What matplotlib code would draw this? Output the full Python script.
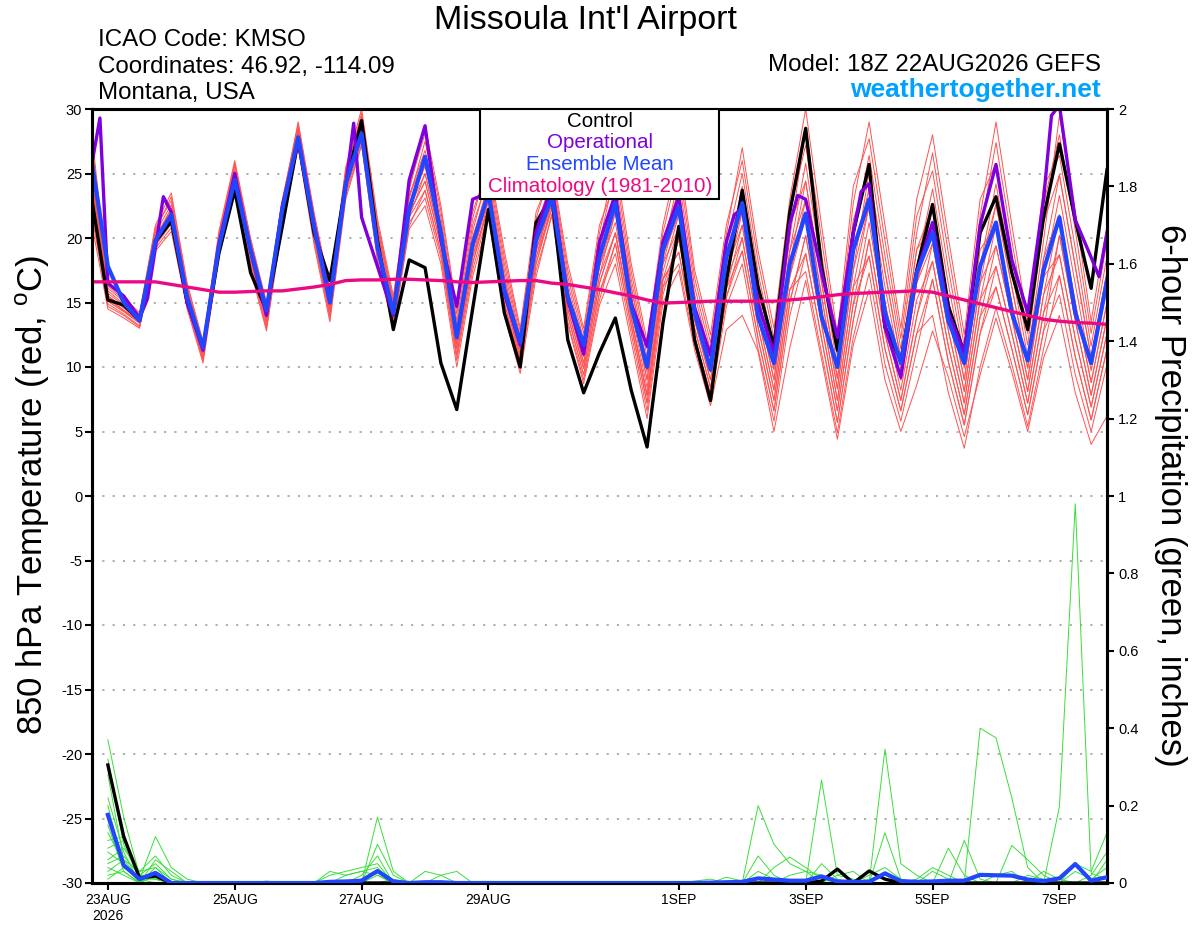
import numpy as np
import pandas as pd
import matplotlib
matplotlib.use('Agg')
import matplotlib.pyplot as plt
from matplotlib.patches import Rectangle

plt.rcParams['font.family'] = ['Liberation Sans', 'DejaVu Sans']
plt.rcParams['axes.unicode_minus'] = False
plt.rcParams['mathtext.fontset'] = 'custom'
plt.rcParams['mathtext.rm'] = 'Liberation Sans'

W, H = 1200, 927

# 6-hourly valid times, 22AUG 18Z .. 7SEP 18Z
times = pd.date_range('2026-08-22 18:00', periods=65, freq='6h')

# ---- 850 hPa temperature (C) ----
ctrl_temp = [22.9, 15.2, 14.8, 13.6, 19.7, 21.3, 15.0, 11.5, 18.8, 23.7, 17.3, 14.4, 20.9,
             27.6, 20.4, 16.7, 24.2, 29.1, 19.8, 12.9, 18.3, 17.7, 10.3, 6.7, 14.5, 22.2,
             14.2, 10.0, 21.2, 23.2, 12.1, 8.0, 11.1, 13.8, 8.2, 3.8, 13.4, 20.9, 12.1, 7.4,
             16.7, 23.7, 16.2, 11.6, 22.0, 28.5, 17.8, 11.3, 20.4, 25.7, 13.1, 10.5, 17.5,
             22.6, 14.7, 11.1, 20.4, 23.2, 17.3, 12.9, 21.6, 27.3, 21.4, 16.1, 25.3]

mean_temp = [25.8, 17.8, 15.0, 13.6, 19.8, 21.8, 15.4, 11.5, 19.3, 24.5, 19.1, 14.4, 22.2,
             27.8, 20.9, 15.0, 24.2, 28.1, 19.3, 14.2, 22.2, 26.3, 20.4, 12.3, 19.5, 23.5,
             16.0, 11.9, 19.8, 23.2, 15.4, 11.7, 18.5, 22.7, 14.7, 10.0, 19.1, 22.4, 14.2, 9.8,
             18.5, 22.7, 13.9, 10.3, 18.0, 21.9, 13.9, 10.0, 19.1, 23.0, 14.2, 10.3, 17.3,
             20.4, 13.6, 10.3, 17.8, 21.2, 14.2, 10.5, 17.5, 21.6, 14.2, 10.3, 16.7]

clim_temp = [16.6, 16.6, 16.6, 16.6, 16.6, 16.4, 16.2, 16.0, 15.8, 15.8, 15.85, 15.9, 15.9,
             16.05, 16.2, 16.4, 16.7, 16.75, 16.75, 16.8, 16.8, 16.75, 16.7, 16.6, 16.55, 16.6,
             16.65, 16.7, 16.7, 16.5, 16.4, 16.2, 16.0, 15.75, 15.5, 15.2, 14.95, 15.0, 15.05,
             15.1, 15.1, 15.1, 15.1, 15.1, 15.2, 15.3, 15.45, 15.6, 15.7, 15.75, 15.8, 15.85,
             15.9, 15.8, 15.5, 15.2, 14.9, 14.6, 14.3, 14.0, 13.7, 13.55, 13.45, 13.4, 13.3]

# operational run (3-hourly where visible), hours after 22AUG 18Z
op_hours = [0, 3, 6, 12, 18, 21, 27, 30, 36, 42, 48, 54, 60, 66, 72, 78, 84, 90, 96, 99,
            102, 108, 114, 120, 126, 132, 138, 144, 150, 156, 162, 168, 174, 180, 186, 192,
            198, 204, 210, 216, 222, 228, 234, 240, 243, 246, 252, 258, 264, 267, 270, 276,
            282, 288, 291, 294, 300, 306, 312, 318, 324, 330, 336, 342, 348, 354, 360, 363,
            366, 372, 378, 381, 384]
op_temp = [25.8, 29.3, 16.5, 15.5, 13.8, 15.3, 23.2, 22.0, 15.0, 11.3, 19.5, 25.0, 19.0,
           14.0, 22.5, 27.5, 21.0, 15.5, 24.0, 28.9, 21.6, 17.8, 14.0, 24.5, 28.7, 19.8,
           14.7, 23.0, 23.5, 15.7, 11.7, 20.5, 24.0, 15.2, 11.0, 19.7, 23.4, 14.9, 11.6,
           19.7, 23.2, 14.6, 10.9, 19.7, 21.8, 22.3, 14.9, 11.1, 21.1, 23.3, 23.0, 17.3,
           12.3, 20.4, 23.6, 24.2, 13.1, 9.2, 17.3, 21.2, 14.2, 11.1, 21.0, 25.7, 18.3,
           14.2, 23.0, 29.5, 30.3, 21.4, 18.5, 17.0, 20.4]

temp_members = [
    [24.5, 15.5, 14.6, 13.6, 20.0, 22.3, 15.7, 11.3, 19.7, 24.9, 18.8, 13.9, 22.0, 28.2, 21.0, 15.0, 24.5,
     29.1, 20.5, 14.7, 23.0, 27.5, 21.6, 13.6, 21.0, 24.7, 17.5, 12.0, 20.5, 24.7, 17.0, 12.1, 19.7,
     25.2, 17.4, 11.4, 20.4, 25.6, 16.9, 11.9, 20.3, 27.0, 19.0, 13.0, 23.0, 30.0, 21.0, 12.5, 24.0,
     27.7, 19.8, 12.2, 21.7, 25.2, 17.6, 10.7, 20.4, 27.4, 19.8, 12.6, 22.6, 28.0, 20.6, 12.6, 19.8],
    [23.8, 15.3, 14.4, 13.5, 19.8, 21.4, 15.1, 10.8, 19.1, 24.5, 18.3, 13.5, 21.6, 27.4, 20.0, 14.0, 23.5,
     27.6, 18.7, 13.3, 21.2, 23.1, 18.5, 10.5, 17.5, 22.0, 14.5, 9.9, 17.5, 21.7, 13.3, 8.7, 14.8,
     18.0, 12.0, 6.0, 15.0, 17.5, 11.3, 7.0, 12.9, 14.0, 11.2, 5.0, 11.5, 16.7, 10.6, 4.4, 11.7,
     16.0, 9.0, 5.0, 8.6, 12.8, 9.2, 4.6, 9.4, 13.8, 9.6, 5.0, 10.7, 14.0, 8.0, 4.0, 6.2],
    [25.2, 15.7, 14.8, 13.7, 20.2, 22.0, 15.5, 11.2, 19.5, 25.1, 19.0, 14.1, 22.2, 28.0, 20.8, 14.8, 24.3,
     28.5, 19.8, 14.2, 22.3, 26.2, 20.7, 12.7, 20.0, 23.8, 16.5, 11.3, 19.5, 23.5, 15.5, 10.8, 17.8,
     21.2, 14.4, 8.4, 17.4, 21.8, 14.3, 9.6, 17.5, 23.0, 15.6, 9.8, 19.0, 25.8, 17.7, 10.0, 20.1,
     26.4, 18.6, 11.4, 20.4, 26.6, 18.8, 11.6, 21.7, 29.0, 21.0, 13.5, 24.0, 26.4, 19.2, 11.6, 18.6],
    [23.1, 15.1, 14.3, 13.4, 19.6, 21.7, 15.3, 11.0, 19.3, 24.7, 18.5, 13.7, 21.8, 28.0, 20.8, 14.8, 24.3,
     28.2, 19.4, 13.9, 21.9, 24.4, 19.4, 11.4, 18.5, 23.3, 16.0, 10.9, 19.0, 22.7, 14.5, 9.9, 16.5,
     20.4, 13.8, 7.8, 16.8, 18.9, 12.3, 7.9, 15.4, 20.0, 13.1, 7.4, 16.0, 18.8, 12.2, 5.7, 13.6,
     19.9, 12.6, 7.4, 13.9, 19.6, 12.8, 7.2, 15.2, 17.8, 12.6, 7.2, 14.2, 20.2, 13.6, 7.8, 13.8],
    [25.9, 15.9, 14.9, 13.8, 20.4, 22.6, 15.9, 11.5, 19.9, 25.6, 19.5, 14.6, 22.6, 28.6, 21.5, 15.5, 25.0,
     29.7, 21.2, 15.2, 23.7, 28.7, 22.5, 14.5, 22.0, 25.6, 18.5, 12.7, 21.5, 25.5, 18.0, 13.0, 21.0,
     24.4, 16.8, 10.8, 19.8, 23.7, 15.6, 10.8, 18.9, 23.0, 15.6, 9.8, 19.0, 23.0, 15.5, 8.3, 17.5,
     22.5, 15.0, 9.0, 16.5, 19.6, 12.8, 7.2, 15.2, 21.0, 15.0, 9.0, 17.0, 23.3, 16.4, 9.7, 16.2],
    [22.4, 14.9, 14.1, 13.2, 19.4, 21.1, 14.9, 10.6, 18.9, 24.2, 18.0, 13.2, 21.4, 27.6, 20.3, 14.3, 23.8,
     27.9, 19.1, 13.6, 21.6, 25.0, 19.8, 11.8, 19.0, 22.9, 15.5, 10.6, 18.5, 22.3, 14.0, 9.4, 15.8,
     19.6, 13.2, 7.2, 16.2, 19.9, 13.0, 8.4, 16.1, 19.0, 12.2, 6.6, 15.0, 20.2, 13.3, 6.6, 14.9,
     18.6, 11.4, 6.6, 12.6, 14.0, 8.0, 3.7, 10.0, 14.6, 10.2, 5.4, 11.4, 17.1, 10.8, 5.9, 11.4],
    [26.6, 16.1, 15.1, 14.0, 20.6, 23.2, 16.3, 11.8, 20.3, 25.8, 19.8, 14.8, 22.8, 29.0, 22.0, 16.0, 25.5,
     30.0, 21.5, 15.5, 24.0, 28.1, 22.1, 14.1, 21.5, 26.0, 19.0, 13.0, 22.0, 25.1, 17.5, 12.6, 20.4,
     26.0, 18.0, 12.0, 21.0, 26.5, 17.5, 12.5, 21.0, 26.0, 18.2, 12.2, 22.0, 27.2, 18.8, 10.8, 21.4,
     25.1, 17.4, 10.6, 19.1, 22.4, 15.2, 9.0, 17.8, 24.2, 17.4, 10.8, 19.8, 29.5, 22.0, 13.5, 21.0],
    [24.5, 15.5, 14.6, 13.6, 20.0, 22.0, 15.5, 11.2, 19.5, 24.7, 18.5, 13.7, 21.8, 27.8, 20.5, 14.5, 24.0,
     28.8, 20.1, 14.4, 22.6, 25.6, 20.3, 12.3, 19.5, 24.2, 17.0, 11.6, 20.0, 23.9, 16.0, 11.2, 18.4,
     22.8, 15.6, 9.6, 18.6, 21.8, 14.3, 9.6, 17.5, 21.0, 13.9, 8.2, 17.0, 21.6, 14.4, 7.4, 16.2,
     22.5, 15.0, 9.0, 16.5, 22.4, 15.2, 9.0, 17.8, 22.6, 16.2, 9.9, 18.4, 21.8, 15.0, 8.8, 15.0],
    [21.7, 14.7, 14.0, 13.1, 19.2, 20.8, 14.7, 10.5, 18.7, 24.0, 17.8, 13.0, 21.2, 27.2, 19.8, 13.8, 23.3,
     27.3, 18.4, 13.1, 20.9, 23.7, 18.9, 10.9, 18.0, 22.4, 15.0, 10.2, 18.0, 22.7, 14.5, 9.9, 16.5,
     20.4, 13.8, 7.8, 16.8, 20.8, 13.6, 9.0, 16.8, 22.0, 14.8, 9.0, 18.0, 24.4, 16.6, 9.1, 18.8,
     23.8, 16.2, 9.8, 17.8, 23.8, 16.4, 9.9, 19.1, 21.0, 15.0, 9.0, 17.0, 18.7, 12.2, 6.9, 12.6],
    [27.3, 16.3, 15.2, 14.1, 20.8, 22.9, 16.1, 11.7, 20.1, 25.3, 19.3, 14.3, 22.4, 28.4, 21.3, 15.3, 24.8,
     29.4, 20.8, 15.0, 23.3, 26.8, 21.2, 13.2, 20.5, 25.1, 18.0, 12.3, 21.0, 24.3, 16.5, 11.7, 19.1,
     23.6, 16.2, 10.2, 19.2, 22.7, 14.9, 10.2, 18.2, 24.0, 16.5, 10.6, 20.0, 28.6, 19.9, 11.7, 22.7,
     29.0, 21.0, 13.0, 23.0, 28.0, 20.0, 12.5, 23.0, 25.8, 18.6, 11.7, 21.2, 24.9, 17.8, 10.7, 17.4],
    [23.5, 15.3, 14.4, 13.5, 19.8, 21.7, 15.3, 11.0, 19.3, 24.9, 18.8, 13.9, 22.0, 27.8, 20.5, 14.5, 24.0,
     27.9, 19.1, 13.6, 21.6, 23.7, 18.9, 10.9, 18.0, 22.9, 15.5, 10.6, 18.5, 23.1, 15.0, 10.3, 17.1,
     22.0, 15.0, 9.0, 18.0, 20.8, 13.6, 9.0, 16.8, 20.0, 13.1, 7.4, 16.0, 17.4, 11.1, 4.9, 12.3,
     17.3, 10.2, 5.8, 11.3, 16.8, 10.4, 5.5, 12.6, 16.2, 11.4, 6.3, 12.8, 15.6, 9.4, 5.0, 10.2],
    [25.2, 15.5, 14.6, 13.6, 20.0, 22.3, 15.7, 11.3, 19.7, 25.1, 19.0, 14.1, 22.2, 28.4, 21.3, 15.3, 24.8,
     28.8, 20.1, 14.4, 22.6, 25.6, 20.3, 12.3, 19.5, 23.3, 16.0, 10.9, 19.0, 23.1, 15.0, 10.3, 17.1,
     20.4, 13.8, 7.8, 16.8, 18.9, 12.3, 7.9, 15.4, 19.0, 12.2, 6.6, 15.0, 20.2, 13.3, 6.6, 14.9,
     21.2, 13.8, 8.2, 15.2, 18.2, 11.6, 6.3, 13.9, 19.4, 13.8, 8.1, 15.6, 18.7, 12.2, 6.9, 12.6],
    [21.0, 14.5, 13.8, 13.0, 19.0, 20.5, 14.5, 10.3, 18.5, 23.8, 17.5, 12.8, 21.0, 27.0, 19.5, 13.5, 23.0,
     27.2, 18.2, 12.9, 20.7, 22.5, 18.0, 10.0, 17.0, 21.5, 14.0, 9.5, 17.0, 21.9, 13.5, 9.0, 15.2,
     19.6, 13.2, 7.2, 16.2, 18.0, 11.7, 7.3, 14.7, 18.0, 11.4, 5.8, 14.0, 18.8, 12.2, 5.7, 13.6,
     19.9, 12.6, 7.4, 13.9, 18.2, 11.6, 6.3, 13.9, 16.2, 11.4, 6.3, 12.8, 20.2, 13.6, 7.8, 13.8],
    [24.2, 15.5, 14.6, 13.6, 20.0, 22.0, 15.5, 11.2, 19.5, 24.9, 18.8, 13.9, 22.0, 28.0, 20.8, 14.8, 24.3,
     28.5, 19.8, 14.2, 22.3, 25.0, 19.8, 11.8, 19.0, 23.8, 16.5, 11.3, 19.5, 23.9, 16.0, 11.2, 18.4,
     23.6, 16.2, 10.2, 19.2, 24.6, 16.2, 11.3, 19.6, 25.0, 17.3, 11.4, 21.0, 24.4, 16.6, 9.1, 18.8,
     22.5, 15.0, 9.0, 16.5, 21.0, 14.0, 8.1, 16.5, 22.6, 16.2, 9.9, 18.4, 24.9, 17.8, 10.7, 17.4],
    [28.0, 16.5, 15.4, 14.2, 21.0, 23.5, 16.5, 12.0, 20.5, 26.0, 20.0, 15.0, 23.0, 28.8, 21.8, 15.8, 25.3,
     29.4, 20.8, 15.0, 23.3, 26.2, 20.7, 12.7, 20.0, 24.2, 17.0, 11.6, 20.0, 23.5, 15.5, 10.8, 17.8,
     22.0, 15.0, 9.0, 18.0, 22.7, 14.9, 10.2, 18.2, 22.0, 14.8, 9.0, 18.0, 21.6, 14.4, 7.4, 16.2,
     18.6, 11.4, 6.6, 12.6, 16.8, 10.4, 5.5, 12.6, 17.8, 12.6, 7.2, 14.2, 17.1, 10.8, 5.9, 11.4],
    [23.1, 15.1, 14.3, 13.4, 19.6, 21.4, 15.1, 10.8, 19.1, 24.5, 18.3, 13.5, 21.6, 27.6, 20.3, 14.3, 23.8,
     28.2, 19.4, 13.9, 21.9, 24.4, 19.4, 11.4, 18.5, 22.4, 15.0, 10.2, 18.0, 22.3, 14.0, 9.4, 15.8,
     18.8, 12.6, 6.6, 15.6, 19.9, 13.0, 8.4, 16.1, 21.0, 13.9, 8.2, 17.0, 23.0, 15.5, 8.3, 17.5,
     25.1, 17.4, 10.6, 19.1, 21.0, 14.0, 8.1, 16.5, 19.4, 13.8, 8.1, 15.6, 21.8, 15.0, 8.8, 15.0],
]

# ---- 6-hour precipitation (inches), {6h step: value}, missing steps are 0 ----
precip_ctrl = {1: 0.305, 2: 0.12, 3: 0.013, 4: 0.018, 46: 0.005, 47: 0.036, 49: 0.031, 50: 0.01}
precip_mean = {1: 0.176, 2: 0.046, 3: 0.010, 4: 0.026, 15: 0.003, 16: 0.004, 17: 0.006, 18: 0.031,
               19: 0.004, 21: 0.002, 22: 0.002, 39: 0.001, 40: 0.002, 41: 0.003, 42: 0.012,
               43: 0.009, 44: 0.006, 45: 0.006, 46: 0.017, 47: 0.004, 48: 0.003, 49: 0.003,
               50: 0.025, 51: 0.005, 52: 0.003, 53: 0.004, 54: 0.006, 55: 0.006, 56: 0.021,
               57: 0.020, 58: 0.019, 59: 0.009, 60: 0.005, 61: 0.012, 62: 0.049, 63: 0.006,
               64: 0.015}
precip_members = [
    {1: 0.37, 2: 0.17, 3: 0.02, 4: 0.05, 5: 0.01, 46: 0.05, 47: 0.01},
    {1: 0.32, 2: 0.10, 3: 0.01, 4: 0.12, 5: 0.04, 6: 0.01, 18: 0.17, 19: 0.03, 50: 0.346, 51: 0.05, 52: 0.02},
    {1: 0.28, 2: 0.06, 3: 0.03, 4: 0.07, 5: 0.02, 18: 0.10, 19: 0.02, 42: 0.20, 43: 0.10, 44: 0.05, 45: 0.03},
    {1: 0.22, 2: 0.08, 4: 0.02, 17: 0.02, 18: 0.07, 56: 0.40, 57: 0.375, 58: 0.22, 59: 0.04},
    {1: 0.20, 2: 0.04, 3: 0.01, 4: 0.03, 15: 0.02, 16: 0.03, 17: 0.04, 18: 0.05, 61: 0.197, 62: 0.98,
     63: 0.025, 64: 0.01},
    {1: 0.15, 2: 0.03, 4: 0.06, 5: 0.03, 18: 0.03, 46: 0.266, 47: 0.02, 48: 0.01},
    {1: 0.11, 2: 0.12, 3: 0.02, 4: 0.01, 16: 0.02, 17: 0.03, 18: 0.02, 50: 0.13, 51: 0.01, 54: 0.09, 55: 0.02},
    {1: 0.08, 2: 0.05, 3: 0.01, 4: 0.02, 21: 0.03, 22: 0.02, 42: 0.07, 43: 0.02, 58: 0.097, 59: 0.06, 60: 0.02},
    {1: 0.06, 2: 0.09, 3: 0.03, 4: 0.04, 43: 0.04, 44: 0.067, 45: 0.04, 46: 0.01, 55: 0.11, 56: 0.01},
    {1: 0.05, 2: 0.07, 3: 0.02, 4: 0.02, 15: 0.03, 16: 0.02, 17: 0.03, 18: 0.04, 62: 0.05, 63: 0.03, 64: 0.13},
    {1: 0.04, 2: 0.02, 4: 0.03, 22: 0.02, 23: 0.03, 40: 0.015, 41: 0.005, 53: 0.03, 54: 0.01, 64: 0.06},
    {1: 0.03, 2: 0.06, 3: 0.01, 4: 0.01, 18: 0.02, 38: 0.005, 39: 0.01, 49: 0.02, 50: 0.04, 51: 0.01,
     60: 0.03, 61: 0.01},
    {1: 0.02, 2: 0.03, 4: 0.02, 11: 0.005, 47: 0.02, 48: 0.03, 57: 0.02, 58: 0.03, 62: 0.03, 63: 0.01, 64: 0.04},
    {1: 0.01, 2: 0.04, 3: 0.01, 44: 0.02, 45: 0.03, 46: 0.02, 52: 0.01, 53: 0.04, 54: 0.02},
    {1: 0.09, 2: 0.11, 3: 0.02, 4: 0.01, 19: 0.01, 59: 0.02, 60: 0.01, 63: 0.02, 64: 0.08},
    {1: 0.13, 2: 0.05, 4: 0.04, 5: 0.01, 17: 0.01, 18: 0.03, 42: 0.03, 43: 0.01, 49: 0.01, 50: 0.02},
]

tick_dates = pd.to_datetime(['2026-08-23', '2026-08-25', '2026-08-27', '2026-08-29',
                             '2026-09-01', '2026-09-03', '2026-09-05', '2026-09-07'])
tick_labels = ['23AUG\n2026', '25AUG', '27AUG', '29AUG', '1SEP', '3SEP', '5SEP', '7SEP']

legend_entries = ['Control', 'Operational', 'Ensemble Mean', 'Climatology (1981-2010)']

c_member = '#ff5252'
c_green = '#3ade3a'
c_ctrl = 'black'
c_op = '#7f00dc'
c_mean = '#2146ff'
c_clim = '#ec0a82'
legend_colors = [c_ctrl, c_op, c_mean, c_clim]


def expand(d, n=64):
    arr = np.zeros(n)
    for k, v in d.items():
        arr[k - 1] = v
    return arr


def fxy(x, y):
    return x / W, 1 - y / H


fig = plt.figure(figsize=(W / 100, H / 100), dpi=100)
ax = fig.add_axes([92 / W, 44 / H, 1015 / W, 774 / H])
ax2 = ax.twinx()

# temperature
for m in temp_members:
    ax.plot(times, m, color=c_member, lw=0.7, zorder=2)
ax.plot(times, ctrl_temp, color=c_ctrl, lw=2.4, zorder=3)
op_times = times[0] + pd.to_timedelta(op_hours, unit='h')
ax.plot(op_times, op_temp, color=c_op, lw=2.4, zorder=4)
ax.plot(times, mean_temp, color=c_mean, lw=3.0, zorder=5)
ax.plot(times, clim_temp, color=c_clim, lw=2.4, zorder=6)

# precipitation
ptimes = times[1:]
for d in precip_members:
    ax2.plot(ptimes, expand(d), color=c_green, lw=0.7, zorder=2)
ax2.plot(ptimes, expand(precip_ctrl), color=c_ctrl, lw=2.4, zorder=3)
ax2.plot(ptimes, expand(precip_mean), color=c_mean, lw=3.0, zorder=4)

ax.set_xlim(times[0], times[-1])
ax.set_ylim(-30, 30)
ax2.set_ylim(0, 2)

yt = np.arange(-30, 31, 5)
ax.set_yticks(yt)
ax.set_yticklabels([str(v) for v in yt])
ax.yaxis.grid(True, linestyle=(0, (1.2, 4.5)), color='#a8a8a8', lw=1.3)
ax.set_axisbelow(True)
ax.set_xticks(tick_dates)
ax.set_xticklabels(tick_labels)
ax.tick_params(axis='y', direction='out', length=5, width=1.5, labelsize=10.5, pad=2)
ax.tick_params(axis='x', direction='out', length=5, width=1.5, labelsize=10, pad=2)

pt = np.round(np.arange(0, 2.01, 0.2), 1)
ax2.set_yticks(pt)
ax2.set_yticklabels(['%g' % v for v in pt])
ax2.tick_params(axis='y', direction='out', length=5, width=1.5, labelsize=10.5, pad=3)

for a in (ax, ax2):
    for s in a.spines.values():
        s.set_linewidth(2.2)

# legend box
ax2.add_patch(Rectangle((0.382, 0.884), 0.236, 0.116, transform=ax2.transAxes,
                        facecolor='white', edgecolor='black', lw=1.5, zorder=10))
for i, (txt, col) in enumerate(zip(legend_entries, legend_colors)):
    fig.text(*fxy(600, 126.7 + 21.6 * i), txt, color=col, fontsize=14.8,
             ha='center', va='baseline')

# header texts
fig.text(*fxy(586, 29), "Missoula Int'l Airport", fontsize=24.5, ha='center', va='baseline')
fig.text(*fxy(98, 45.7), 'ICAO Code: KMSO', fontsize=17.4, va='baseline')
fig.text(*fxy(98, 72.5), 'Coordinates: 46.92, -114.09', fontsize=17.4, va='baseline')
fig.text(*fxy(98, 99), 'Montana, USA', fontsize=17.4, va='baseline')
fig.text(*fxy(1101, 70.7), 'Model: 18Z 22AUG2026 GEFS', fontsize=17.4, ha='right', va='baseline')
fig.text(*fxy(1101, 96.7), 'weathertogether.net', fontsize=19, fontweight='bold',
         color='#00a2ff', ha='right', va='baseline')

# axis titles
fig.text(*fxy(33, 495), r'850 hPa Temperature (red, $^{\rm o}$C)', fontsize=25,
         rotation=90, ha='center', va='center')
fig.text(*fxy(1170, 495), '6-hour Precipitation (green, inches)', fontsize=25,
         rotation=270, ha='center', va='center')

fig.savefig('out.png', dpi=100)
